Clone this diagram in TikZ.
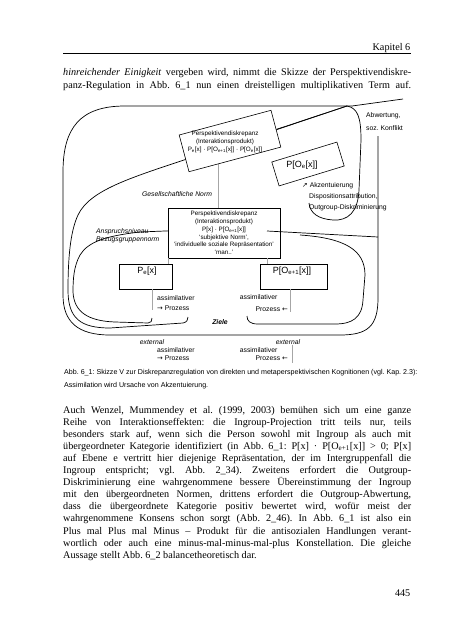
\documentclass[tikz,border=0pt]{standalone}
\usepackage{fontspec}
\setmainfont{Liberation Serif}
\setsansfont{Liberation Sans}
\newfontfamily\arrowfont{DejaVu Sans}
\usetikzlibrary{positioning}

\tikzset{
  frame/.style={line width=.7pt},
  boxed/.style={draw, line width=.6pt, fill=white, inner sep=0pt},
  link/.style={draw=gray!70, line width=.4pt},
  body/.style={font=\fontsize{10.2}{12.1}\selectfont, inner sep=0pt},
  lab/.style={font=\sffamily\fontsize{6.8}{8}\selectfont, inner sep=0pt},
  labit/.style={font=\sffamily\itshape\fontsize{6.8}{8}\selectfont, inner sep=0pt},
  boxtext/.style={font=\sffamily\fontsize{6.3}{7.8}\selectfont, inner sep=0pt, align=center},
  bigtext/.style={font=\sffamily\fontsize{9}{10}\selectfont, inner sep=0pt},
  capt/.style={font=\sffamily\fontsize{7.1}{13}\selectfont, inner sep=0pt},
}
\newcommand\jline[1]{\hbox to 348pt{#1}}

\begin{document}
\frenchspacing
\begin{tikzpicture}[x=1pt,y=-1pt]
\useasboundingbox (0,0) rectangle (453,640);
\fill[white] (0,0) rectangle (453,640);

% Kopfzeile
\node[body, anchor=base east] (head) at (410.5,50) {Kapitel 6};
\draw[line width=.8pt] (63,53.5) -- (410.5,53.5);

\node[body, anchor=base west] (para1) at (63,75) {\vtop{\baselineskip=13pt
\jline{\emph{hinreichender Einigkeit} vergeben wird, nimmt die Skizze der Perspektivendiskre-}
\jline{panz-Regulation in Abb. 6\_1 nun einen dreistelligen multiplikativen Term auf.}}};

% Linien und Schleifen
\draw[frame] (378,136) -- (378,298) .. controls (378,326) and (368,335) .. (340,335) -- (110,335)
  .. controls (78,335) and (63,322) .. (63,295) -- (63,172) .. controls (63,128) and (80,106) .. (125,106) -- (352,106);
\draw[frame] (352,106) -- (403,99);
\draw[frame] (347,106) .. controls (358,108) and (361,118) .. (361,140) -- (359,190)
  .. controls (358,212) and (348,221) .. (333,220) .. controls (318,219) and (310,213) .. (309,203);
\draw[frame] (347,106) -- (190,158) .. controls (130,178) and (90,190) .. (78,215)
  .. controls (70,232) and (68,260) .. (68,290) .. controls (68,318) and (80,328) .. (110,328) -- (183,323)
  .. controls (187,322) and (188,320) .. (188,317);
\draw[frame] (190,230) -- (140,232) .. controls (105,236) and (88,242) .. (80,255)
  .. controls (74,266) and (73,278) .. (73,292) .. controls (74,312) and (88,321) .. (115,322) -- (148,323)
  .. controls (151,323) and (152,321) .. (152,318);
\draw[frame] (300,235) .. controls (345,238) and (365,250) .. (365,275) -- (363,300)
  .. controls (362,318) and (352,324) .. (335,324) -- (258,324) .. controls (250,324) and (247,321) .. (247,316);

% graue Verbindungen (unter den Kaesten)
\coordinate (uplink) at (218,150);
\draw[link] (uplink) -- (218,208);

% schraege Kaesten
\coordinate (ub1) at (179.2,135.0);
\coordinate (ub2) at (271.0,110.3);
\coordinate (ub3) at (280.8,147.1);
\coordinate (ub4) at (189.0,171.7);
\filldraw[fill=white, line width=.6pt] (ub1) -- (ub2) -- (ub3) -- (ub4) -- cycle;
\node[boxtext] (uptext) at (225,142) {Perspektivendiskrepanz\\(Interaktionsprodukt)\\P\textsubscript{e}[x] · P[O\textsubscript{e+1}[x]] · P[O\textsubscript{e}[x]]};
\draw[frame] (277,129.5) -- (347,106);

\coordinate (ob1) at (271.8,162.0);
\coordinate (ob2) at (336.9,142.1);
\coordinate (ob3) at (344.2,166.0);
\coordinate (ob4) at (279.1,185.9);
\filldraw[fill=white, line width=.6pt] (ob1) -- (ob2) -- (ob3) -- (ob4) -- cycle;
\node[bigtext] (oetext) at (302,165) {P[O\textsubscript{e}[x]]};

% gerade Kaesten
\node[boxed, boxtext, minimum width=112pt, minimum height=50pt] (midbox) at (224,233)
  {Perspektivendiskrepanz\\(Interaktionsprodukt)\\P[x] · P[O\textsubscript{e+1}[x]]\\`subjektive Norm',\\`individuelle soziale Repräsentation'\\`man..'};
\draw[frame] (267,231) -- (378,237);

\node[boxed, minimum width=53pt, minimum height=25pt] (pebox) at (145.5,276.5) {};
\node[bigtext] (petext) at (147,271) {P\textsubscript{e}[x]};
\node[boxed, minimum width=67pt, minimum height=25pt] (poebox) at (293.5,276.5) {};
\node[bigtext] (poetext) at (292,271) {P[O\textsubscript{e+1}[x]]};

\coordinate (lproc) at (152,310);
\coordinate (rproc) at (290,312);
\draw[link] ([xshift=-4pt]pebox.north east) -- ([xshift=-4pt]pebox.north east |- midbox.south);
\draw[link] ([xshift=7pt]poebox.north west) -- ([xshift=7pt]poebox.north west |- midbox.south);
\draw[link] (lproc |- pebox.south) -- (lproc);
\draw[link] (rproc |- poebox.south) -- (rproc);

% Beschriftungen
\node[lab, anchor=base west] (abw) at (366,117.5) {Abwertung,};
\node[lab, anchor=base west] (konf) at (366,130.5) {soz. Konflikt};
\node[lab, anchor=base west] (akz) at (302,187.5) {{\arrowfont ↗} Akzentuierung};
\node[lab, anchor=base west] (disp) at (309,198.5) {Dispositionsattribution,};
\node[lab, anchor=base west] (disk) at (309,209.5) {Outgroup-Diskriminierung};
\node[labit] (norm) at (177,194) {Gesellschaftliche Norm};
\node[labit, anchor=base west, align=left] (ansp) at (96,241.5) {Anspruchsniveau\\Bezugsgruppennorm};

\node[lab, anchor=base west] (lass) at (157,300) {assimilativer};
\node[lab, anchor=base west] (lpro) at (157,310.5) {{\arrowfont →} Prozess};
\node[lab, anchor=base east] (rass) at (277.5,299.5) {assimilativer};
\node[lab, anchor=base east] (rpro) at (288,311) {Prozess {\arrowfont ←}};
\node[lab, font=\sffamily\bfseries\itshape\fontsize{6.8}{8}\selectfont] (ziele) at (220,322) {Ziele};

\node[labit] (lext) at (152,342) {external};
\node[lab, anchor=base west] (lass2) at (157,352.5) {assimilativer};
\node[lab, anchor=base west] (lpro2) at (157,360.5) {{\arrowfont →} Prozess};
\node[labit] (rext) at (288,342) {external};
\node[lab, anchor=base east] (rass2) at (277.5,352.5) {assimilativer};
\node[lab, anchor=base east] (rpro2) at (288,360.5) {Prozess {\arrowfont ←}};
\draw[link] ([xshift=4pt]rext.south) -- ++(0,18);

% Bildunterschrift
\node[capt, anchor=base west] (caption) at (64,374) {\vtop{\hbox{Abb. 6\_1: Skizze V zur Diskrepanzregulation von direkten und metaperspektivischen Kognitionen (vgl. Kap. 2.3):}
\hbox{Assimilation wird Ursache von Akzentuierung.}}};

\node[body, anchor=base west] (para2) at (63,413) {\vtop{
\jline{Auch Wenzel, Mummendey et al. (1999, 2003) bemühen sich um eine ganze}
\jline{Reihe von Interaktionseffekten: die Ingroup-Projection tritt teils nur, teils}
\jline{besonders stark auf, wenn sich die Person sowohl mit Ingroup als auch mit}
\jline{übergeordneter Kategorie identifiziert (in Abb. 6\_1: P[x] · P[O\textsubscript{e+1}[x]] > 0; P[x]}
\jline{auf Ebene e vertritt hier diejenige Repräsentation, der im Intergruppenfall die}
\jline{Ingroup entspricht; vgl. Abb. 2\_34). Zweitens erfordert die Outgroup-}
\jline{Diskriminierung eine wahrgenommene bessere Übereinstimmung der Ingroup}
\jline{mit den übergeordneten Normen, drittens erfordert die Outgroup-Abwertung,}
\jline{dass die übergeordnete Kategorie positiv bewertet wird, wofür meist der}
\jline{wahrgenommene Konsens schon sorgt (Abb. 2\_46). In Abb. 6\_1 ist also ein}
\jline{Plus mal Plus mal Minus – Produkt für die antisozialen Handlungen verant-}
\jline{wortlich oder auch eine minus-mal-minus-mal-plus Konstellation. Die gleiche}
\hbox{Aussage stellt Abb. 6\_2 balancetheoretisch dar.}}};

\node[body, anchor=base east] (pageno) at (410.5,596) {445};
\end{tikzpicture}
\end{document}
